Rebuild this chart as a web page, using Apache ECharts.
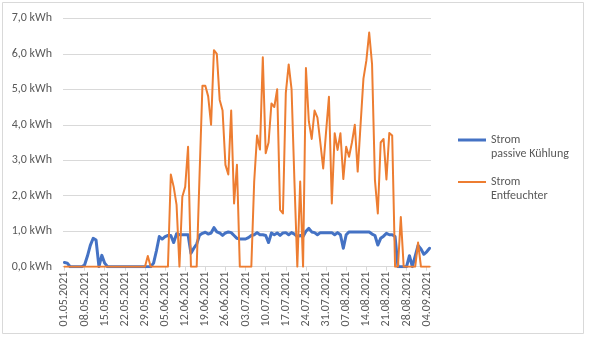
<!DOCTYPE html>
<html>
<head>
<meta charset="utf-8">
<script src="https://cdn.jsdelivr.net/npm/echarts@6/dist/echarts.min.js"></script>
<style>
html,body{margin:0;padding:0;background:#fff;}
#c{width:590px;height:337px;}
</style>
</head>
<body>
<div id="c"></div>
<script>
// Categories: daily dates from 01.05.2021 to 05.09.2021
const startDate = [2021, 4, 1];
const dayCount = 128;
const categories = [];
for (let i = 0; i < dayCount; i++) {
  const d = new Date(Date.UTC(startDate[0], startDate[1], startDate[2] + i));
  const dd = String(d.getUTCDate()).padStart(2, '0');
  const mm = String(d.getUTCMonth() + 1).padStart(2, '0');
  categories.push(dd + '.' + mm + '.' + d.getUTCFullYear());
}

const seriesNames = ['Strom\npassive Kühlung', 'Strom\nEntfeuchter'];

const passiveKuehlung = [
  0.12, 0.1, 0, 0, 0, 0, 0, 0.05, 0.3, 0.6,
  0.8, 0.75, 0, 0.32, 0.1, 0, 0, 0, 0, 0,
  0, 0, 0, 0, 0, 0, 0, 0, 0, 0,
  0, 0.1, 0.45, 0.85, 0.78, 0.85, 0.88, 0.88, 0.68, 0.93,
  0.9, 0.9, 0.9, 0.9, 0.38, 0.52, 0.64, 0.89, 0.94, 0.97,
  0.92, 0.95, 1.1, 0.98, 0.95, 0.88, 0.95, 0.98, 0.96, 0.88,
  0.8, 0.78, 0.78, 0.78, 0.82, 0.88, 0.9, 0.96, 0.9, 0.9,
  0.88, 0.68, 0.95, 0.9, 0.95, 0.88, 0.95, 0.96, 0.9, 0.96,
  0.92, 0.85, 0.88, 0.85, 1.0, 1.08, 0.98, 0.96, 0.9, 0.96,
  0.96, 0.96, 0.96, 0.96, 0.9, 0.96, 0.9, 0.52, 0.9, 0.98,
  0.98, 0.98, 0.98, 0.98, 0.98, 0.98, 0.98, 0.92, 0.88, 0.61,
  0.8, 0.86, 0.94, 0.9, 0.9, 0.85, 0, 0, 0, 0,
  0.31, 0, 0.3, 0.6, 0.5, 0.35, 0.42, 0.52
];

const entfeuchter = [
  0, 0, 0, 0, 0, 0, 0, 0, 0, 0,
  0, 0, 0, 0, 0, 0, 0, 0, 0, 0,
  0, 0, 0, 0, 0, 0, 0, 0, 0, 0.3,
  0, 0, 0, 0, 0, 0, 0, 2.6, 2.25, 1.74,
  0, 1.97, 2.25, 3.38, 0, 0, 0, 2.6, 5.1, 5.1,
  4.8, 4.0, 6.1, 6.0, 4.7, 4.4, 2.87, 2.6, 4.4, 1.78,
  2.87, 0, 0, 0, 0, 0, 2.4, 3.7, 3.3, 5.9,
  3.2, 3.5, 4.6, 4.5, 5.0, 1.6, 1.5, 4.9, 5.7, 5.0,
  2.4, 0, 2.4, 0, 5.6, 4.1, 3.6, 4.4, 4.2, 3.5,
  2.77, 3.8, 4.79, 1.78, 3.76, 3.29, 3.76, 2.47, 3.38, 3.1,
  3.5, 4.0, 2.68, 4.0, 5.3, 5.8, 6.6, 5.7, 2.44, 1.5,
  3.5, 3.6, 2.46, 3.77, 3.7, 0, 0, 1.4, 0, 0,
  0, 0, 0, 0.68, 0, 0, 0, 0
];

const yTicks = { min: 0, max: 7, interval: 1 };

const FONT = 'Carlito, Calibri, "Liberation Sans", sans-serif';
const chart = echarts.init(document.getElementById('c'), null, { renderer: 'canvas' });
chart.setOption({
  animation: false,
  backgroundColor: '#ffffff',
  textStyle: { fontFamily: FONT },
  graphic: [{
    type: 'rect',
    shape: { x: 2.5, y: 2.5, width: 581, height: 331 },
    style: { fill: 'none', stroke: '#d9d9d9', lineWidth: 1 },
    silent: true,
    z: -10
  }],
  grid: { left: 63, right: 159, top: 18.3, bottom: 70.3, containLabel: false },
  legend: {
    orient: 'vertical',
    left: 458,
    top: 119,
    padding: 0,
    itemGap: 0,
    itemWidth: 28,
    itemHeight: 14,
    data: [
      { name: seriesNames[0], icon: 'path://M0,0H28V3H0Z' },
      { name: seriesNames[1], icon: 'path://M0,0H28V2H0Z' }
    ],
    formatter: name => '\n' + name,
    textStyle: {
      color: '#595959',
      fontSize: 12,
      fontFamily: FONT,
      lineHeight: 14
    }
  },
  xAxis: {
    type: 'category',
    data: categories,
    boundaryGap: true,
    axisLine: { lineStyle: { color: '#d9d9d9', width: 1 } },
    axisTick: { show: true, interval: 6, alignWithLabel: true, length: 4, lineStyle: { color: '#d9d9d9' } },
    axisLabel: { interval: 6, rotate: 90, color: '#595959', fontSize: 12, margin: 5, fontFamily: FONT },
    splitLine: { show: false }
  },
  yAxis: {
    type: 'value',
    min: yTicks.min,
    max: yTicks.max,
    interval: yTicks.interval,
    axisLine: { show: false },
    axisTick: { show: false },
    axisLabel: {
      color: '#595959', fontSize: 12, margin: 11, fontFamily: FONT,
      formatter: v => v.toFixed(1).replace('.', ',') + ' kWh'
    },
    splitLine: { lineStyle: { color: '#d9d9d9', width: 1 } }
  },
  series: [
    {
      name: seriesNames[0],
      type: 'line',
      data: passiveKuehlung,
      symbol: 'none',
      lineStyle: { color: '#4472C4', width: 3, join: 'round', cap: 'round' },
      itemStyle: { color: '#4472C4' }
    },
    {
      name: seriesNames[1],
      type: 'line',
      data: entfeuchter,
      symbol: 'none',
      lineStyle: { color: '#ED7D31', width: 2, join: 'round', cap: 'round' },
      itemStyle: { color: '#ED7D31' }
    }
  ]
});
</script>
</body>
</html>
